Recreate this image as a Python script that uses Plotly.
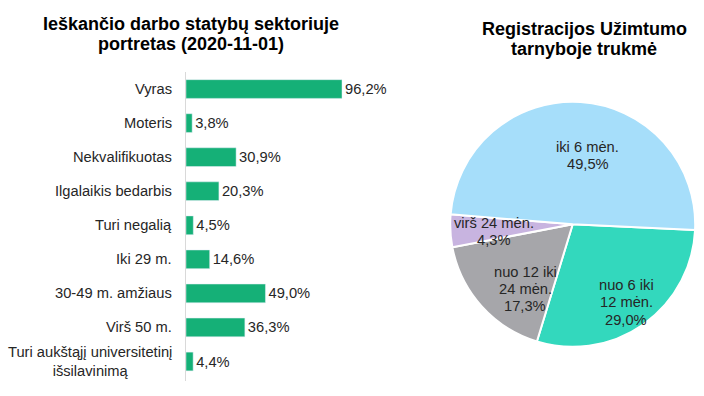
import plotly.graph_objects as go

# ---- data ----
bar_categories = ["Vyras", "Moteris", "Nekvalifikuotas", "Ilgalaikis bedarbis", "Turi negalią",
                  "Iki 29 m.", "30-49 m. amžiaus", "Virš 50 m.",
                  "Turi aukštąjį universitetinį<br>išsilavinimą"]
bar_values = [96.2, 3.8, 30.9, 20.3, 4.5, 14.6, 49.0, 36.3, 4.4]

pie_labels = ["nuo 6 iki 12 mėn.", "nuo 12 iki 24 mėn.", "virš 24 mėn.", "iki 6 mėn."]
pie_label_lines = [["nuo 6 iki", "12 mėn."], ["nuo 12 iki", "24 mėn."], ["virš 24 mėn."], ["iki 6 mėn."]]
pie_values = [29.0, 17.3, 4.3, 49.5]

bar_title_lines = ["Ieškančio darbo statybų sektoriuje", "portretas (2020-11-01)"]
pie_title_lines = ["Registracijos Užimtumo", "tarnyboje trukmė"]

W, H = 704, 396
FONT = "Arial, Liberation Sans, sans-serif"
TXT = "#262626"

def fmt(v):
    return f"{v:.1f}".replace(".", ",") + "%"

fig = go.Figure()

fig.add_trace(go.Bar(
    x=bar_values, y=bar_categories, orientation="h",
    marker=dict(color="#15B077"), width=0.55,
    text=[fmt(v) for v in bar_values], textposition="outside",
    textfont=dict(family=FONT, size=14.7, color=TXT),
    cliponaxis=False, hoverinfo="skip",
    xaxis="x", yaxis="y",
))

fig.add_trace(go.Pie(
    labels=pie_labels, values=pie_values, sort=False,
    direction="clockwise", rotation=92.7,
    marker=dict(colors=["#33D8BD", "#A6A6AA", "#C8B4E0", "#A6DEFA"],
                line=dict(color="white", width=2)),
    textinfo="none", hoverinfo="skip", showlegend=False,
    domain=dict(x=[450.2 / W, 695.2 / W], y=[1 - 346.8 / H, 1 - 101.8 / H]),
))

annotations = []

def px_ann(px, py, text, size, color, bold=False):
    return dict(
        x=px / W, y=1 - py / H, xref="paper", yref="paper",
        text=f"<b>{text}</b>" if bold else text, showarrow=False,
        xanchor="center", yanchor="middle", align="center",
        font=dict(family=FONT, size=size, color=color),
    )

# category labels (right aligned, multi-line centered)
for c in bar_categories:
    annotations.append(dict(
        x=0, y=c, xref="x", yref="y", text=c, showarrow=False,
        xanchor="right", yanchor="middle", align="center", xshift=-12,
        font=dict(family=FONT, size=14.7, color=TXT),
    ))

# pie labels: one annotation per line
pie_label_pos = [(626, 285), (525, 271.7), (493.5, 222.7), (587.7, 146.7)]
LINE = 17.3
for (px, py), lines, v in zip(pie_label_pos, pie_label_lines, pie_values):
    for i, t in enumerate(lines + [fmt(v)]):
        annotations.append(px_ann(px, py + i * LINE, t, 14.7, TXT))

# titles: one annotation per line
for i, t in enumerate(bar_title_lines):
    annotations.append(px_ann(191, 23.5 + i * 20.5, t, 18, "black", bold=True))
for i, t in enumerate(pie_title_lines):
    annotations.append(px_ann(584, 28.5 + i * 20.5, t, 18, "black", bold=True))

fig.update_layout(
    width=W, height=H,
    margin=dict(l=0, r=0, t=0, b=0),
    paper_bgcolor="white", plot_bgcolor="white",
    showlegend=False,
    xaxis=dict(domain=[186 / W, (186 + 120 * 156 / 96.2) / W], range=[0, 120],
               visible=False, showgrid=False, zeroline=False, fixedrange=True),
    yaxis=dict(domain=[1 - 381 / H, 1 - 72 / H], autorange="reversed",
               showticklabels=False, ticks="", showgrid=False, zeroline=False,
               showline=True, linecolor="#D9D9D9", linewidth=1, fixedrange=True),
    annotations=annotations,
    font=dict(family=FONT),
)

fig.write_html("out.html", config={"displayModeBar": False},
               post_script="document.body.style.margin='0';document.body.style.overflow='hidden';")
